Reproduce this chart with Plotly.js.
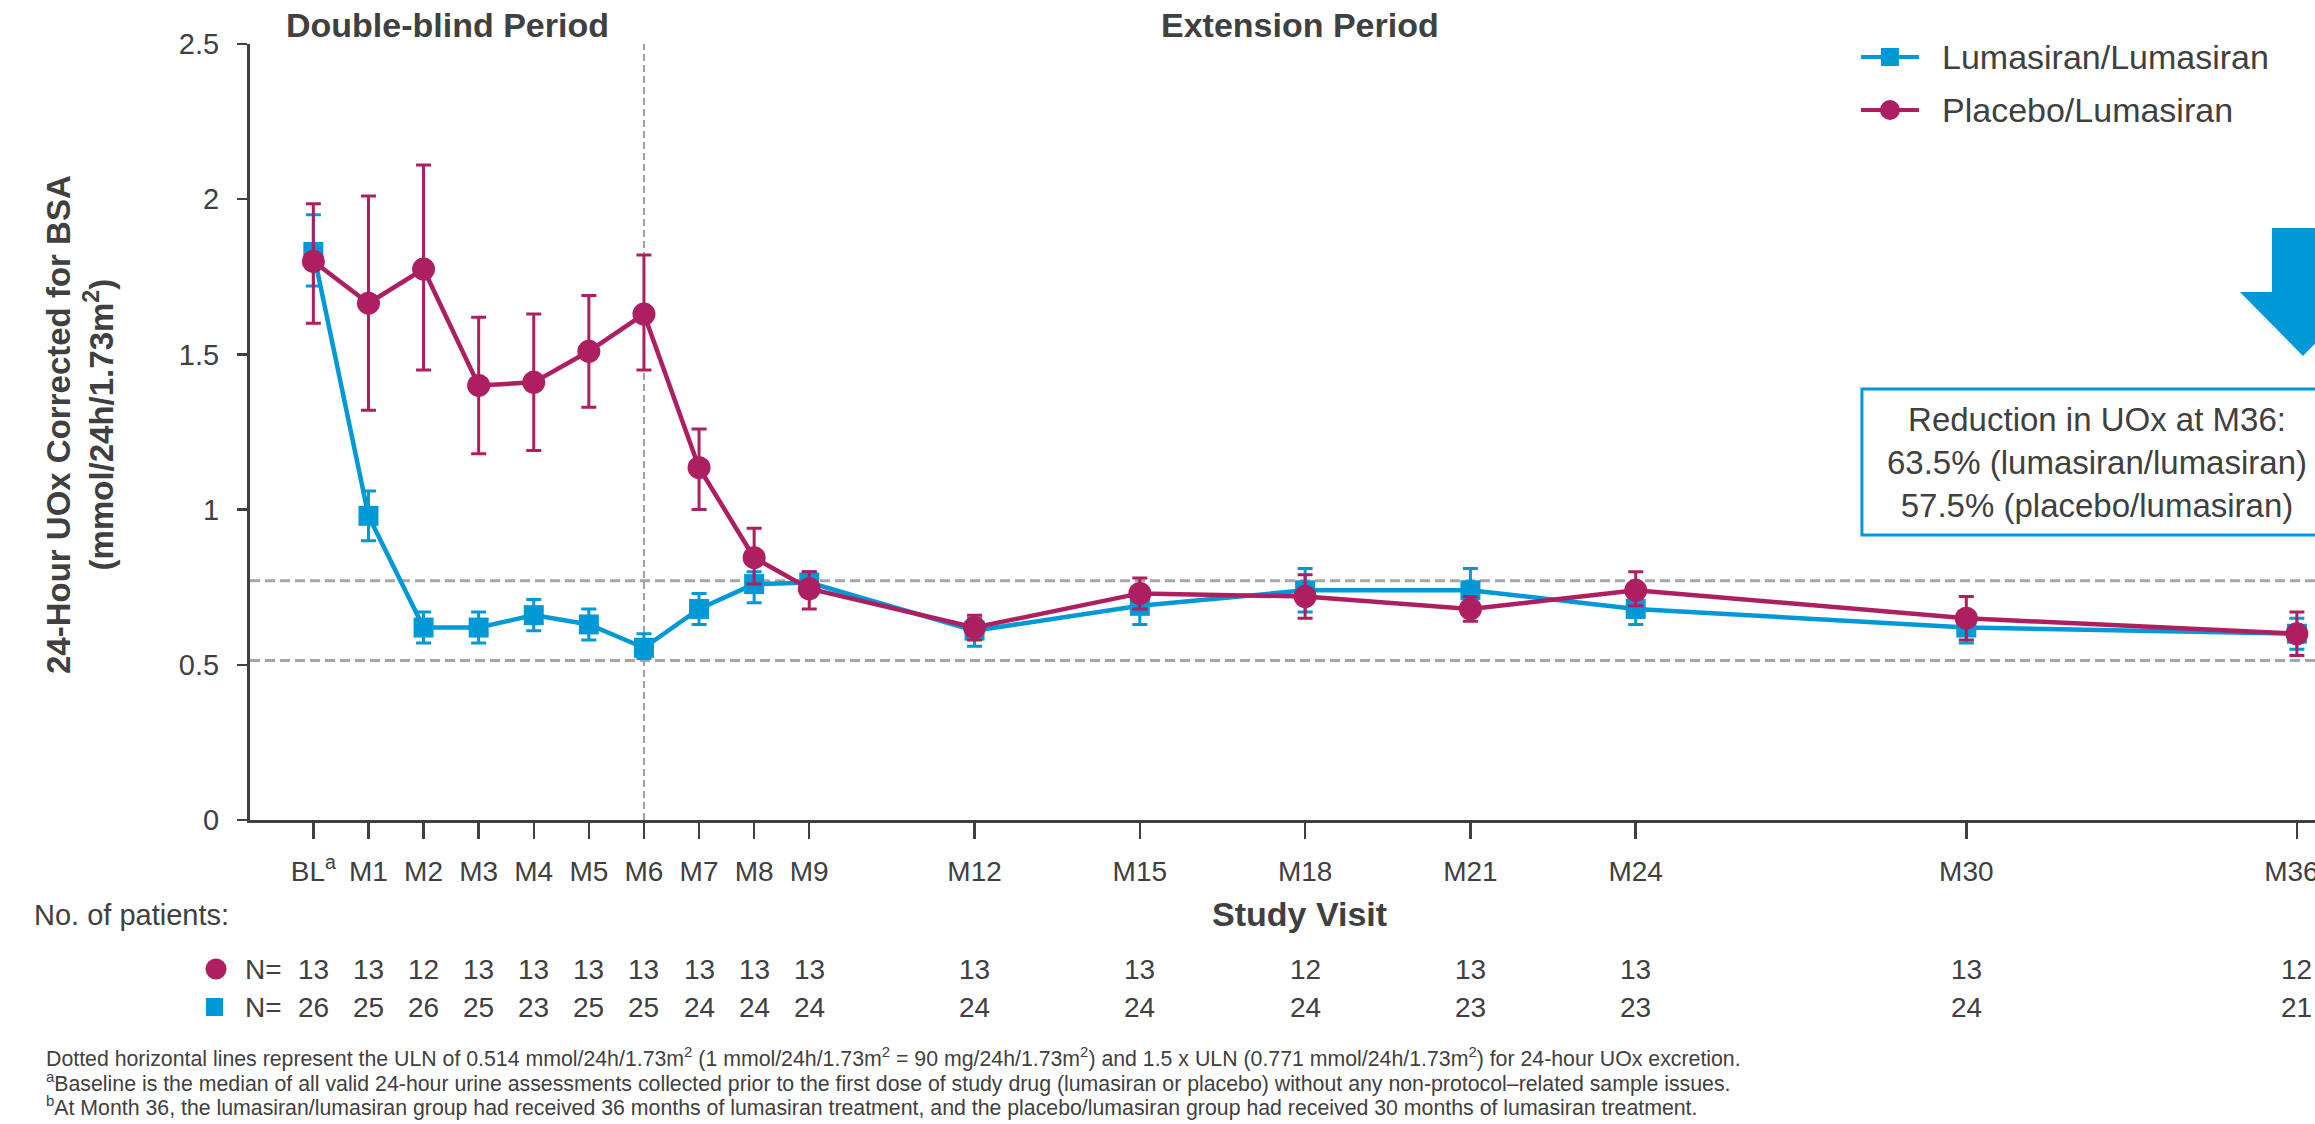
<!DOCTYPE html>
<html>
<head>
<meta charset="utf-8">
<script src="https://cdn.plot.ly/plotly-3.0.1.min.js"></script>
<style>
  html, body { margin: 0; padding: 0; background: #ffffff; overflow: hidden; }
  #chart { width: 2400px; height: 1124px; }
</style>
</head>
<body>
<div id="chart"></div>
<script>
// Study visits, in months from baseline
const months = [0, 1, 2, 3, 4, 5, 6, 7, 8, 9, 12, 15, 18, 21, 24, 30, 36];
const visitLabels = ["BL<sup>a</sup>", "M1", "M2", "M3", "M4", "M5", "M6", "M7", "M8", "M9",
                     "M12", "M15", "M18", "M21", "M24", "M30", "M36<sup>b</sup>"];

// Lumasiran/Lumasiran: mean 24-hour UOx (mmol/24h/1.73m2) with error bar limits
const lumMean  = [1.83, 0.98, 0.62, 0.62, 0.66, 0.63, 0.555, 0.68, 0.76, 0.765, 0.61, 0.69, 0.74, 0.74, 0.68, 0.62, 0.60];
const lumUpper = [1.95, 1.06, 0.67, 0.67, 0.71, 0.68, 0.60, 0.73, 0.80, 0.80, 0.65, 0.74, 0.81, 0.81, 0.73, 0.66, 0.65];
const lumLower = [1.72, 0.90, 0.57, 0.57, 0.61, 0.58, 0.52, 0.63, 0.70, 0.72, 0.56, 0.63, 0.67, 0.67, 0.63, 0.57, 0.55];

// Placebo/Lumasiran
const plaMean  = [1.80, 1.665, 1.775, 1.40, 1.41, 1.51, 1.63, 1.135, 0.845, 0.745, 0.62, 0.73, 0.72, 0.68, 0.74, 0.65, 0.60];
const plaUpper = [1.985, 2.01, 2.11, 1.62, 1.63, 1.69, 1.82, 1.26, 0.94, 0.80, 0.66, 0.78, 0.79, 0.72, 0.80, 0.72, 0.67];
const plaLower = [1.60, 1.32, 1.45, 1.18, 1.19, 1.33, 1.45, 1.00, 0.76, 0.68, 0.58, 0.68, 0.65, 0.64, 0.69, 0.58, 0.53];

// Number of patients per visit
const nPlacebo   = [13, 13, 12, 13, 13, 13, 13, 13, 13, 13, 13, 13, 12, 13, 13, 13, 12];
const nLumasiran = [26, 25, 26, 25, 23, 25, 25, 24, 24, 24, 24, 24, 24, 23, 23, 24, 21];

// Reference limits: ULN and 1.5 x ULN
const uln = 0.514;
const uln15 = 0.771;

const yTicks = [0, 0.5, 1, 1.5, 2, 2.5];
const yTickText = ["0", "0.5", "1", "1.5", "2", "2.5"];

// ---- layout geometry (pixels) ----
const W = 2400, H = 1124;
const X_RANGE = [-1.15, 37.2];
const PL = 250, PT = 44, PB = 820;
const PR = PL + (X_RANGE[1] - X_RANGE[0]) * 55.1;
const px2x = px => (px - PL) / (PR - PL);
const py2y = py => (PB - py) / (PB - PT);

const BLUE = "#0099D8";
const MAG = "#AE1F61";
const TXT = "#404040";
const FONT = "'Liberation Sans', Arial, Helvetica, sans-serif";

const diff = (a, b) => a.map((v, i) => v - b[i]);

const lumTrace = {
  type: "scatter", mode: "lines+markers", name: "Lumasiran/Lumasiran",
  x: months, y: lumMean,
  line: { color: BLUE, width: 4.5 },
  marker: { symbol: "square", size: 20, color: BLUE },
  error_y: { type: "data", symmetric: false,
             array: diff(lumUpper, lumMean), arrayminus: diff(lumMean, lumLower),
             color: BLUE, thickness: 3, width: 7.5 },
  cliponaxis: false, showlegend: false
};

const plaTrace = {
  type: "scatter", mode: "lines+markers", name: "Placebo/Lumasiran",
  x: months, y: plaMean,
  line: { color: MAG, width: 4.5 },
  marker: { symbol: "circle", size: 23, color: MAG },
  error_y: { type: "data", symmetric: false,
             array: diff(plaUpper, plaMean), arrayminus: diff(plaMean, plaLower),
             color: MAG, thickness: 3, width: 7.5 },
  cliponaxis: false, showlegend: false
};

const shapes = [
  // ULN reference lines
  { type: "line", xref: "x", yref: "y", x0: X_RANGE[0], x1: X_RANGE[1], y0: uln, y1: uln,
    line: { color: "#A6A6A6", width: 3, dash: "10px,5px" }, layer: "below" },
  { type: "line", xref: "x", yref: "y", x0: X_RANGE[0], x1: X_RANGE[1], y0: uln15, y1: uln15,
    line: { color: "#A6A6A6", width: 3, dash: "10px,5px" }, layer: "below" },
  // Double-blind / extension boundary at M6
  { type: "line", xref: "x", yref: "y", x0: 6, x1: 6, y0: 0, y1: 2.52,
    line: { color: "#A0A0A0", width: 2, dash: "7px,4px" }, layer: "below" },

  // Legend keys
  { type: "line", xref: "paper", yref: "paper", x0: px2x(1861), x1: px2x(1919), y0: py2y(57), y1: py2y(57),
    line: { color: BLUE, width: 4 } },
  { type: "rect", xref: "paper", yref: "paper", x0: px2x(1881), x1: px2x(1899), y0: py2y(66), y1: py2y(48),
    fillcolor: BLUE, line: { width: 0 } },
  { type: "line", xref: "paper", yref: "paper", x0: px2x(1861), x1: px2x(1919), y0: py2y(110), y1: py2y(110),
    line: { color: MAG, width: 4 } },
  { type: "circle", xref: "paper", yref: "paper", x0: px2x(1880), x1: px2x(1900), y0: py2y(120), y1: py2y(100),
    fillcolor: MAG, line: { width: 0 } },

  // Reduction call-out box
  { type: "rect", xref: "paper", yref: "paper", x0: px2x(1862), x1: px2x(2340), y0: py2y(535), y1: py2y(389),
    fillcolor: "rgba(0,0,0,0)", line: { color: BLUE, width: 3 } },
  // Downward arrow
  { type: "path", xref: "paper", yref: "paper",
    path: "M " + px2x(2272) + " " + py2y(228) +
          " L " + px2x(2334) + " " + py2y(228) +
          " L " + px2x(2334) + " " + py2y(292) +
          " L " + px2x(2366) + " " + py2y(292) +
          " L " + px2x(2303) + " " + py2y(356) +
          " L " + px2x(2240) + " " + py2y(292) +
          " L " + px2x(2272) + " " + py2y(292) + " Z",
    fillcolor: BLUE, line: { width: 0 } },

  // Patient-count row keys
  { type: "circle", xref: "paper", yref: "paper", x0: px2x(205.5), x1: px2x(226.5), y0: py2y(979.5), y1: py2y(958.5),
    fillcolor: MAG, line: { width: 0 } },
  { type: "rect", xref: "paper", yref: "paper", x0: px2x(206), x1: px2x(223), y0: py2y(1016), y1: py2y(998),
    fillcolor: BLUE, line: { width: 0 } }
];

const ann = (o) => Object.assign({ showarrow: false, xref: "paper", yref: "paper",
                                   xanchor: "center", yanchor: "middle",
                                   font: { family: FONT, size: 28, color: TXT } }, o);

const annotations = [
  ann({ x: px2x(448), y: py2y(25), text: "<b>Double-blind Period</b>", font: { family: FONT, size: 34, color: TXT } }),
  ann({ x: px2x(1300), y: py2y(25), text: "<b>Extension Period</b>", font: { family: FONT, size: 34, color: TXT } }),
  ann({ x: px2x(80), y: py2y(425), textangle: -90,
        text: "<b>24-Hour UOx Corrected for BSA<br>(mmol/24h/1.73m<sup>2</sup>)</b>",
        font: { family: FONT, size: 33, color: TXT } }),
  ann({ x: px2x(1300), y: py2y(914), text: "<b>Study Visit</b>", font: { family: FONT, size: 34, color: TXT } }),
  ann({ x: px2x(32), y: py2y(915), xanchor: "left", text: "No. of patients:", font: { family: FONT, size: 29, color: TXT } }),
  ann({ x: px2x(243), y: py2y(969), xanchor: "left", text: "N=" }),
  ann({ x: px2x(243), y: py2y(1007), xanchor: "left", text: "N=" }),

  // Legend labels
  ann({ x: px2x(1940), y: py2y(57), xanchor: "left", text: "Lumasiran/Lumasiran", font: { family: FONT, size: 34, color: TXT } }),
  ann({ x: px2x(1940), y: py2y(110), xanchor: "left", text: "Placebo/Lumasiran", font: { family: FONT, size: 34, color: TXT } }),

  // Call-out text
  ann({ x: px2x(2097), y: py2y(462),
        text: "Reduction in UOx at M36:<br>63.5% (lumasiran/lumasiran)<br>57.5% (placebo/lumasiran)",
        font: { family: FONT, size: 33, color: TXT } }),

  // Footnotes
  ann({ x: px2x(44), y: py2y(1057), xanchor: "left", font: { family: FONT, size: 21.3, color: TXT },
        text: "Dotted horizontal lines represent the ULN of 0.514 mmol/24h/1.73m<sup>2</sup> (1 mmol/24h/1.73m<sup>2</sup> = 90 mg/24h/1.73m<sup>2</sup>) and 1.5 x ULN (0.771 mmol/24h/1.73m<sup>2</sup>) for 24-hour UOx excretion." }),
  ann({ x: px2x(44), y: py2y(1082), xanchor: "left", font: { family: FONT, size: 21.3, color: TXT },
        text: "<sup>a</sup>Baseline is the median of all valid 24-hour urine assessments collected prior to the first dose of study drug (lumasiran or placebo) without any non-protocol\u2013related sample issues." }),
  ann({ x: px2x(44), y: py2y(1106), xanchor: "left", font: { family: FONT, size: 21.3, color: TXT },
        text: "<sup>b</sup>At Month 36, the lumasiran/lumasiran group had received 36 months of lumasiran treatment, and the placebo/lumasiran group had received 30 months of lumasiran treatment." })
];

// Patient counts under each visit
months.forEach((m, i) => {
  annotations.push(ann({ x: m, xref: "x", y: py2y(969), text: String(nPlacebo[i]) }));
  annotations.push(ann({ x: m, xref: "x", y: py2y(1007), text: String(nLumasiran[i]) }));
});

const layout = {
  width: W, height: H,
  margin: { l: PL, r: W - PR, t: PT, b: H - PB, pad: 0 },
  paper_bgcolor: "#ffffff", plot_bgcolor: "#ffffff",
  showlegend: false,
  font: { family: FONT, color: TXT },
  xaxis: {
    range: X_RANGE, tickmode: "array", tickvals: months, ticktext: visitLabels,
    showline: true, linecolor: TXT, linewidth: 3, showgrid: false, zeroline: false,
    ticks: "outside", ticklen: 16, tickwidth: 2.5, tickcolor: TXT,
    tickfont: { family: FONT, size: 28, color: TXT }, ticklabelstandoff: 8, fixedrange: true
  },
  yaxis: {
    range: [0, 2.5], tickmode: "array", tickvals: yTicks, ticktext: yTickText,
    showline: true, linecolor: TXT, linewidth: 3, showgrid: false, zeroline: false,
    ticks: "outside", ticklen: 10, tickwidth: 2.5, tickcolor: TXT,
    tickfont: { family: FONT, size: 29, color: TXT }, ticklabelstandoff: 12, fixedrange: true
  },
  shapes: shapes,
  annotations: annotations
};

Plotly.newPlot("chart", [lumTrace, plaTrace], layout, { staticPlot: true, displayModeBar: false });
</script>
</body>
</html>
